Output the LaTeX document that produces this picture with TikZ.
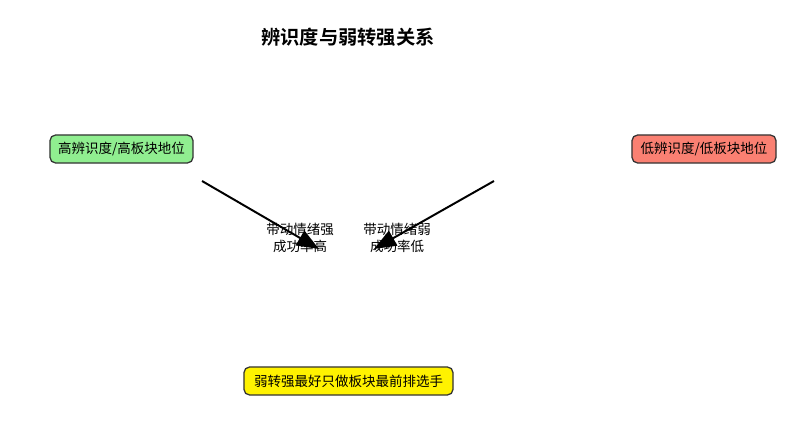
\documentclass[tikz,border=0pt]{standalone}
\usepackage{fontspec}
\usepackage{tikz}
\usetikzlibrary{arrows.meta,positioning}
\newfontfamily\cjk{Noto Sans CJK SC}
\newfontfamily\cjkbold{Noto Sans CJK SC Bold}
\definecolor{boxgreen}{HTML}{90EE90}
\definecolor{boxred}{HTML}{FA8072}
\definecolor{boxline}{HTML}{333333}

\begin{document}
\begin{tikzpicture}[x=0.025cm,y=-0.025cm]
                \tikzstyle{every node}+=[font=\cjk\fontsize{9.6}{12}\selectfont]
                \tikzstyle{levelbox}=[draw=boxline, line width=0.9pt, rounded corners=0.14cm, minimum height=0.7cm, inner xsep=0.18cm]
                \tikzstyle{flow}=[black, line width=1.4pt, -{Triangle[length=0.55cm,width=0.42cm]}]
                \useasboundingbox (0,0) rectangle (800,431);
                \node (title) at (348,37) {\cjkbold\fontsize{13.7}{16}\selectfont 辨识度与弱转强关系};
                \node [levelbox, fill=boxgreen, minimum width=3.575cm] (high) at (121.5,149) {高辨识度/高板块地位};
                \node [levelbox, fill=boxred, minimum width=3.6cm] (low) at (704,149) {低辨识度/低板块地位};
                \node [levelbox, fill=yellow, minimum width=5.225cm] (advice) at (348.5,381) {弱转强最好只做板块最前排选手};
                \node [align=center] (strongtxt) at (300,237.5) {带动情绪强\\成功率高};
                \node [align=center] (weaktxt) at (397,237.5) {带动情绪弱\\成功率低};
                \coordinate (highout) at (202,181);
                \coordinate (highin) at (319,249);
                \coordinate (lowout) at (494,181);
                \coordinate (lowin) at (374,249);
                \draw [flow] (highout) -- (highin);
                \draw [flow] (lowout) -- (lowin);
\end{tikzpicture}
\end{document}
